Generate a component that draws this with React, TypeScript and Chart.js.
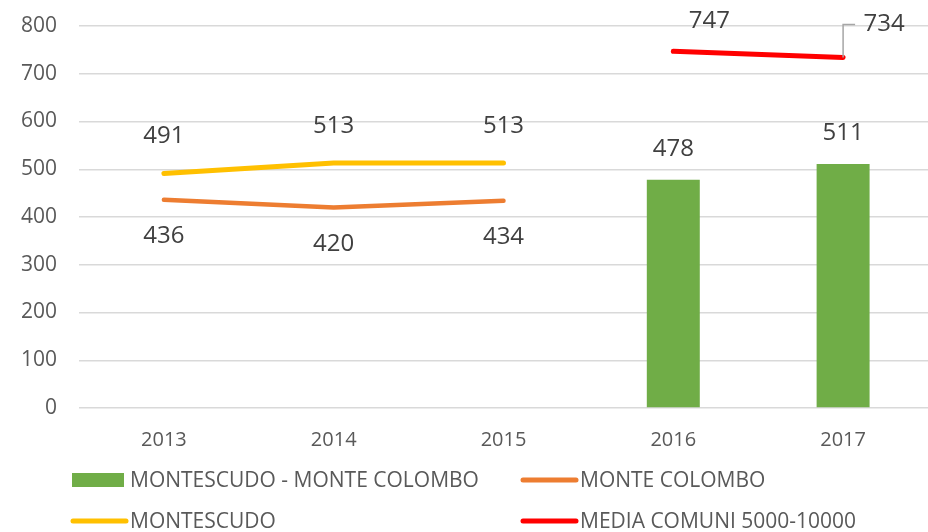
import React, { useEffect, useRef } from "react";
import { Chart, registerables } from "chart.js";

Chart.register(...registerables);

const categories = ["2013", "2014", "2015", "2016", "2017"];
const combinedValues = [null, null, null, 478, 511];
const monteColomboValues = [436, 420, 434, null, null];
const montescudoValues = [491, 513, 513, null, null];
const mediaValues = [null, null, null, 747, 734];
const yTicks = [0, 100, 200, 300, 400, 500, 600, 700, 800];

const GRAY_TEXT = "#595959";
const LABEL_TEXT = "#404040";
const FONT = "'Open Sans', 'DejaVu Sans', sans-serif";

// label placement per dataset (style only)
const labelStyle: Record<number, { dx: number[]; dy: number[]; leader?: boolean[] }> = {
  0: { dx: [0, 0, 0, 0, 0], dy: [-31, -31, -31, -31, -31] },
  1: { dx: [0, 0, 0, 0, 0], dy: [36.5, 36.5, 36.5, 36.5, 36.5] },
  2: { dx: [0, 0, 0, 0, 0], dy: [-37, -37, -37, -37, -37] },
  3: { dx: [0, 0, 0, 36, 41], dy: [0, 0, 0, -30, -33], leader: [false, false, false, false, true] },
};

const dataLabelPlugin = {
  id: "dataLabels",
  afterDatasetsDraw(chart: any) {
    const ctx = chart.ctx;
    ctx.save();
    ctx.font = `24px ${FONT}`;
    ctx.fillStyle = LABEL_TEXT;
    ctx.textAlign = "center";
    ctx.textBaseline = "middle";
    chart.data.datasets.forEach((ds: any, di: number) => {
      const meta = chart.getDatasetMeta(di);
      const st = labelStyle[di];
      meta.data.forEach((el: any, i: number) => {
        const v = ds.data[i];
        if (v === null || v === undefined) return;
        const x = el.x + st.dx[i];
        const y = el.y + st.dy[i];
        if (st.leader && st.leader[i]) {
          ctx.save();
          ctx.strokeStyle = "#a6a6a6";
          ctx.lineWidth = 1.5;
          ctx.beginPath();
          ctx.moveTo(el.x, el.y);
          ctx.lineTo(el.x, y);
          ctx.lineTo(x - 29, y);
          ctx.stroke();
          ctx.restore();
        }
        ctx.fillText(String(v), x, y);
      });
    });
    ctx.restore();
  },
};

const legendPlugin = {
  id: "customLegend",
  afterDraw(chart: any) {
    const ctx = chart.ctx;
    const area = chart.chartArea;
    const col1 = area.left - 7;
    const col2 = col1 + 450;
    const row1 = area.bottom + 72;
    const row2 = row1 + 41;
    const items = [
      { ds: 0, x: col1, y: row1 },
      { ds: 1, x: col2, y: row1 },
      { ds: 2, x: col1, y: row2 },
      { ds: 3, x: col2, y: row2 },
    ];
    ctx.save();
    ctx.font = `21px ${FONT}`;
    ctx.textBaseline = "middle";
    ctx.textAlign = "left";
    items.forEach((it) => {
      const ds = chart.data.datasets[it.ds];
      if (ds.type === "bar") {
        ctx.fillStyle = ds.backgroundColor;
        ctx.fillRect(it.x, it.y - 7, 52, 14);
      } else {
        ctx.strokeStyle = ds.borderColor;
        ctx.lineWidth = 5;
        ctx.lineCap = "round";
        ctx.beginPath();
        ctx.moveTo(it.x + 1, it.y);
        ctx.lineTo(it.x + 54, it.y);
        ctx.stroke();
      }
      ctx.fillStyle = GRAY_TEXT;
      ctx.fillText(ds.label, it.x + 58, it.y + 1);
    });
    ctx.restore();
  },
};

export default function App() {
  const ref = useRef<HTMLCanvasElement>(null);
  useEffect(() => {
    if (!ref.current) return;
    const chart = new Chart(ref.current, {
      data: {
        labels: categories,
        datasets: [
          {
            type: "bar",
            label: "MONTESCUDO - MONTE COLOMBO",
            data: combinedValues,
            backgroundColor: "#70ad47",
            borderWidth: 0,
            categoryPercentage: 1,
            barPercentage: 0.312,
            order: 2,
          },
          {
            type: "line",
            label: "MONTE COLOMBO",
            data: monteColomboValues,
            borderColor: "#ed7d31",
            backgroundColor: "#ed7d31",
            borderWidth: 4.5,
            borderCapStyle: "round",
            borderJoinStyle: "round",
            pointRadius: 0,
            tension: 0,
            order: 1,
          },
          {
            type: "line",
            label: "MONTESCUDO",
            data: montescudoValues,
            borderColor: "#ffc000",
            backgroundColor: "#ffc000",
            borderWidth: 5,
            borderCapStyle: "round",
            borderJoinStyle: "round",
            pointRadius: 0,
            tension: 0,
            order: 1,
          },
          {
            type: "line",
            label: "MEDIA COMUNI 5000-10000",
            data: mediaValues,
            borderColor: "#ff0000",
            backgroundColor: "#ff0000",
            borderWidth: 5,
            borderCapStyle: "round",
            borderJoinStyle: "round",
            pointRadius: 0,
            tension: 0,
            order: 1,
          },
        ] as any,
      },
      options: {
        responsive: false,
        animation: false,
        layout: { padding: { top: 26, bottom: 74, left: 0, right: 0 } },
        plugins: {
          legend: { display: false },
          tooltip: { enabled: false },
        },
        scales: {
          x: {
            grid: { display: false, drawTicks: false },
            border: { display: false },
            ticks: {
              color: GRAY_TEXT,
              font: { family: FONT, size: 20 },
              padding: 20,
            },
            afterFit: (s: any) => {
              s.height = 50;
            },
          },
          y: {
            min: 0,
            max: 800,
            afterBuildTicks: (s: any) => {
              s.ticks = yTicks.map((v) => ({ value: v }));
            },
            grid: { color: "#d9d9d9", lineWidth: 1.5, drawTicks: false },
            border: { display: false },
            ticks: {
              color: GRAY_TEXT,
              font: { family: FONT, size: 21 },
              padding: 22,
            },
            afterFit: (s: any) => {
              s.width = 79;
              s.paddingTop = 12;
              s.paddingBottom = 12;
            },
          },
        },
      },
      plugins: [dataLabelPlugin, legendPlugin],
    } as any);
    return () => chart.destroy();
  }, []);
  return (
    <div style={{ position: "fixed", left: 0, top: 0, width: 928, height: 532, background: "#fff" }}>
      <canvas ref={ref} width={928} height={532} />
    </div>
  );
}
